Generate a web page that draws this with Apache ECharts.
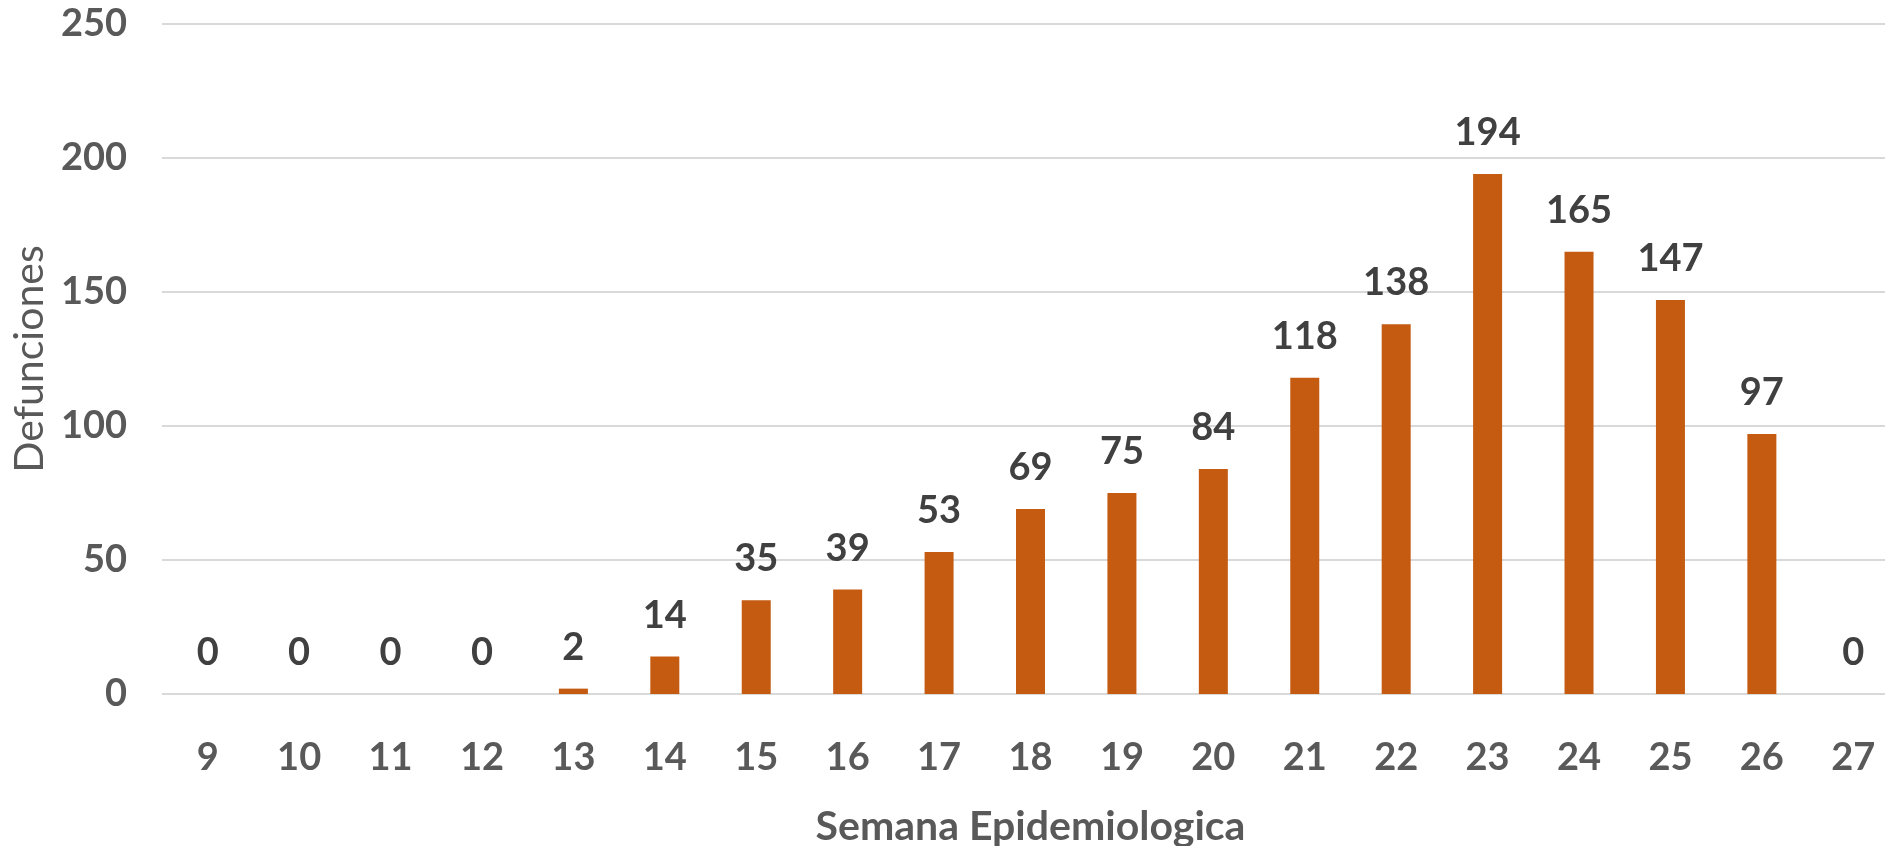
<!DOCTYPE html>
<html>
<head>
<meta charset="utf-8">
<script src="https://cdn.jsdelivr.net/npm/echarts@6/dist/echarts.min.js"></script>
<style>
  html, body { margin: 0; padding: 0; background: #fff; }
  #chart { width: 1885px; height: 846px; }
</style>
</head>
<body>
<div id="chart"></div>
<script>
const weeks = ['9', '10', '11', '12', '13', '14', '15', '16', '17', '18', '19', '20', '21', '22', '23', '24', '25', '26', '27']
const deaths = [0, 0, 0, 0, 2, 14, 35, 39, 53, 69, 75, 84, 118, 138, 194, 165, 147, 97, 0]
const yTicks = [0, 50, 100, 150, 200, 250]

const fontFamily = 'Lato, "Open Sans", sans-serif'

const chart = echarts.init(document.getElementById('chart'), null, { renderer: 'canvas' })

chart.setOption({
  animation: false,
  backgroundColor: '#ffffff',
  grid: {
    left: 162,
    top: 24,
    width: 1737,
    bottom: 152,
    containLabel: false,
    outerBoundsMode: 'none'
  },
  xAxis: {
    type: 'category',
    data: weeks,
    name: 'Semana Epidemiologica',
    nameLocation: 'middle',
    nameGap: 112,
    nameTextStyle: {
      fontFamily,
      fontWeight: 'bold',
      fontSize: 41,
      color: '#595959'
    },
    axisLine: { show: false },
    axisTick: { show: false },
    axisLabel: {
      fontFamily,
      fontWeight: 'bold',
      fontSize: 38,
      color: '#595959',
      margin: 45,
      interval: 0
    }
  },
  yAxis: {
    type: 'value',
    min: yTicks[0],
    max: yTicks[yTicks.length - 1],
    interval: 50,
    name: 'Defunciones',
    nameLocation: 'middle',
    nameGap: 110,
    nameTextStyle: {
      fontFamily,
      fontSize: 41,
      color: '#595959'
    },
    axisLine: { show: false },
    axisTick: { show: false },
    splitLine: { lineStyle: { color: '#d9d9d9', width: 2 } },
    axisLabel: {
      fontFamily,
      fontWeight: 'bold',
      fontSize: 38,
      color: '#595959',
      margin: 35
    }
  },
  series: [
    {
      type: 'bar',
      data: deaths,
      barWidth: 29,
      itemStyle: { color: '#c55a11' },
      label: {
        show: true,
        position: 'top',
        distance: 22,
        fontFamily,
        fontWeight: 'bold',
        fontSize: 38,
        color: '#404040'
      }
    }
  ]
})
</script>
</body>
</html>
